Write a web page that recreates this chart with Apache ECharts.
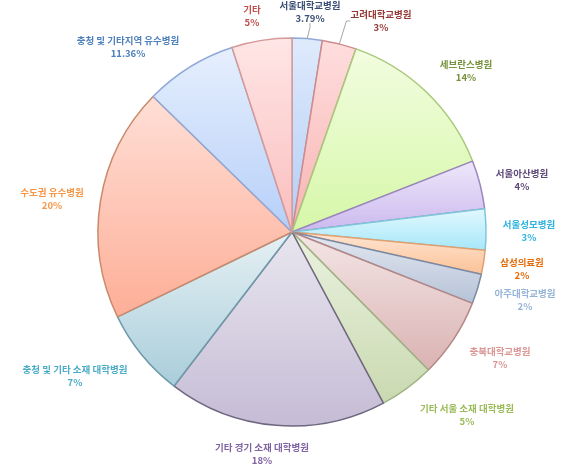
<!DOCTYPE html>
<html>
<head>
<meta charset="UTF-8">
<title>병원 분포</title>
<script type="text/javascript" src="https://cdn.jsdelivr.net/npm/echarts@6/dist/echarts.min.js"></script>
<style>
  html, body { margin: 0; padding: 0; background: #fff; }
</style>
</head>
<body>
<div id="main" style="width:582px;height:469px"></div>
<script type="text/javascript">
// 병원 이름 (12시 방향부터 시계방향)
var names = ['서울대학교병원', '고려대학교병원', '세브란스병원', '서울아산병원', '서울성모병원',
  '삼성의료원', '아주대학교병원', '충북대학교병원', '기타 서울 소재 대학병원', '기타 경기 소재 대학병원',
  '충청 및 기타 소재 대학병원', '수도권 유수병원', '충청 및 기타지역 유수병원', '기타'];
// 조각 크기
var values = [2.5, 2.85, 13.7, 4.04, 3.4, 2.0, 2.5, 6.6, 4.6, 18.2, 7.4, 19.5, 7.7, 5.0];
// 표시되는 퍼센트 글자
var pctText = ['3.79%', '3%', '14%', '4%', '3%', '2%', '2%', '7%', '5%', '18%', '7%', '20%', '11.36%', '5%'];

// 스타일
var topColors = ['#dfeafc', '#ffdede', '#f2fde0', '#eee8fa', '#e3f8fe', '#ffe6d4', '#e5e9f1', '#f4e6e6',
  '#ebf2e0', '#e9e6ef', '#e6f1f4', '#ffdfd6', '#e6effd', '#ffe6e6'];
var botColors = ['#b3cdf5', '#f8b3b3', '#d6f7a8', '#cbb8ee', '#a6e7f9', '#fbc196', '#b5c2d7', '#dab2b2',
  '#c9d9b0', '#c5bcd5', '#a9cdda', '#fdae97', '#b6cff9', '#fabdbd'];
var borderColors = ['#8ea9d8', '#d08b8b', '#a9c97a', '#9a86c0', '#7ec6da', '#e0a070', '#7a8aa5', '#b48686',
  '#9fb383', '#6f6780', '#6e9aaa', '#c98a6c', '#8ea9d8', '#d69a9a'];
var textColors = ['#3b4f75', '#953735', '#76923c', '#5f497a', '#2fb3df', '#e46c0a', '#95b3d7', '#d99694',
  '#9bbb59', '#8064a2', '#4bacc6', '#f79646', '#4f81bd', '#c0504d'];
var labelX = [310, 381, 466, 522, 529, 522, 525, 500, 467, 262, 75, 52, 128, 252];
var labelY = [12, 21, 71, 180, 231, 269, 300, 358, 415, 454, 376, 199, 47, 16];

var myChart = echarts.init(document.getElementById('main'));

var pieData = names.map(function (n, i) {
  return {
    name: n,
    value: values[i],
    itemStyle: {
      color: new echarts.graphic.LinearGradient(0, 0, 0, 1, [
        { offset: 0, color: topColors[i] },
        { offset: 1, color: botColors[i] }
      ]),
      borderColor: borderColors[i]
    },
    label: {
      rich: {
        n: { color: textColors[i], fontSize: 9.5, fontWeight: 'bold', lineHeight: 13, fontFamily: 'Noto Sans CJK KR' },
        p: { color: textColors[i], fontSize: 9.5, fontWeight: 'bold', lineHeight: 13, fontFamily: 'Noto Sans CJK KR' }
      }
    },
    labelLine: { show: i < 2, length: i === 0 ? 4 : 8 }
  };
});

var option = {
  backgroundColor: '#fff',
  animation: false,
  series: [{
    type: 'pie',
    center: [292, 232],
    radius: 194,
    startAngle: 90,
    clockwise: true,
    avoidLabelOverlap: false,
    data: pieData,
    itemStyle: { borderWidth: 1.5 },
    label: {
      show: true,
      position: 'outside',
      align: 'center',
      formatter: function (p) {
        return '{n|' + p.name + '}\n{p|' + pctText[p.dataIndex] + '}';
      }
    },
    labelLine: {
      show: true, showAbove: true, length: 8, length2: 4, smooth: false,
      lineStyle: { color: '#a6a6a6', width: 1 }
    },
    labelLayout: function (params) {
      var i = params.dataIndex;
      return { x: labelX[i], y: labelY[i], align: 'center', verticalAlign: 'middle' };
    }
  }]
};

myChart.setOption(option);
</script>
</body>
</html>
